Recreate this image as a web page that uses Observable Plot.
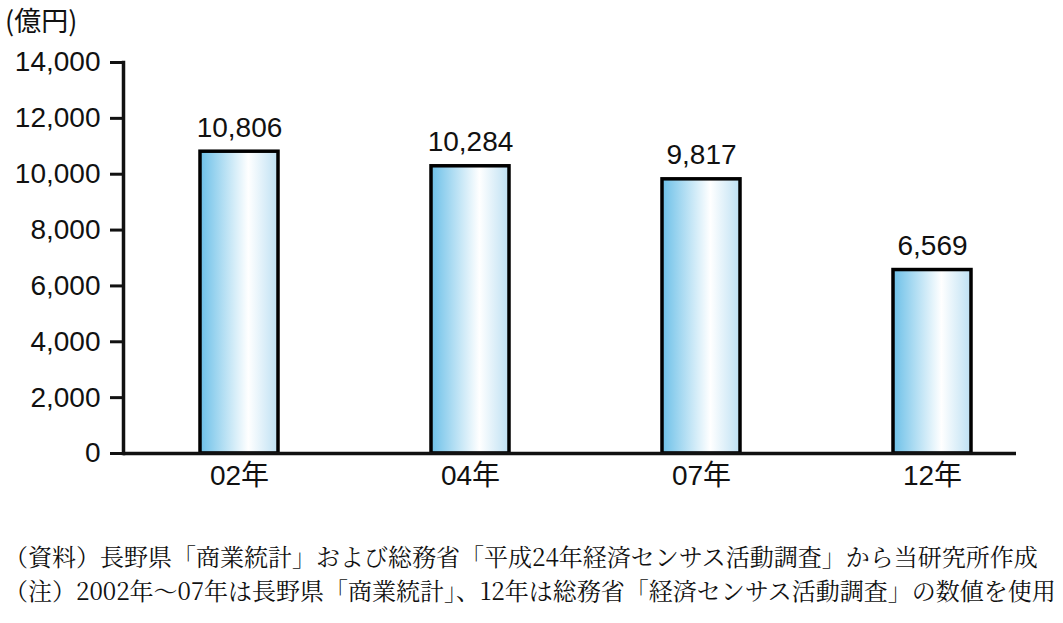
<!DOCTYPE html>
<html lang="ja">
<head>
<meta charset="utf-8">
<script src="https://cdn.jsdelivr.net/npm/d3@7"></script>
<script src="https://cdn.jsdelivr.net/npm/@observablehq/plot@0.6"></script>
<style>
  body { margin: 0; background: #fff; width: 1063px; height: 623px; overflow: hidden; position: relative; }
  #chart { position: absolute; left: 0; top: 0; }
  #unit { position: absolute; left: 5px; top: 0px; font: 27px "Noto Sans CJK JP", sans-serif; color: #111; }
  #note { position: absolute; left: 4px; top: 539px; font: 24px/34px "Noto Serif CJK JP", "Noto Sans CJK JP", serif; color: #111; white-space: nowrap; }
</style>
</head>
<body>
<div id="chart"></div>
<div id="unit">(億円)</div>
<div id="note">（資料）長野県「商業統計」および総務省「平成24年経済センサス活動調査」から当研究所作成<br>（注）2002年～07年は長野県「商業統計」、12年は総務省「経済センサス活動調査」の数値を使用</div>
<script>
// Retail sales in Nagano prefecture (100 million yen)
const years = ["02年", "04年", "07年", "12年"];
const sales = [10806, 10284, 9817, 6569];
const yTicks = [0, 2000, 4000, 6000, 8000, 10000, 12000, 14000];

const data = years.map((year, i) => ({year, value: sales[i]}));
const fmt = d3.format(",");

const chart = Plot.plot({
  width: 1063,
  height: 510,
  marginLeft: 123,
  marginRight: 47,
  marginTop: 62,
  marginBottom: 57,
  style: {
    fontFamily: '"Liberation Sans", "Noto Sans CJK JP", sans-serif',
    fontSize: "28px",
    color: "#111",
    background: "transparent"
  },
  x: {domain: years, paddingInner: 0.662, paddingOuter: 0.262, align: 0.628, label: null},
  y: {domain: [0, 14000], label: null},
  marks: [
    Plot.barY(data, {x: "year", y: "value", fill: "url(#barFill)", stroke: "#000", strokeWidth: 3.5}),
    Plot.text(data, {x: "year", y: "value", text: d => fmt(d.value), lineAnchor: "bottom", dy: -15, fontSize: 28}),
    Plot.ruleY([0], {strokeWidth: 3.5}),
    Plot.axisY(yTicks, {tickSize: 13, tickPadding: 10, strokeWidth: 3, tickFormat: fmt, fontSize: 28, label: null}),
    Plot.axisX({tickSize: 0, tickPadding: 12, fontSize: 28, label: null}),
    Plot.frame({anchor: "left", strokeWidth: 3.5})
  ]
});

// Horizontal sky-blue gradient used as each bar's fill
const grad = d3.select(chart).insert("defs", ":first-child")
  .append("linearGradient")
  .attr("id", "barFill")
  .attr("x1", "0").attr("x2", "1").attr("y1", "0").attr("y2", "0");
[["0%", "#6cc0e8"], ["62%", "#ffffff"], ["100%", "#bde0f3"]].forEach(([o, c]) =>
  grad.append("stop").attr("offset", o).attr("stop-color", c));

document.getElementById("chart").append(chart);
</script>
</body>
</html>
